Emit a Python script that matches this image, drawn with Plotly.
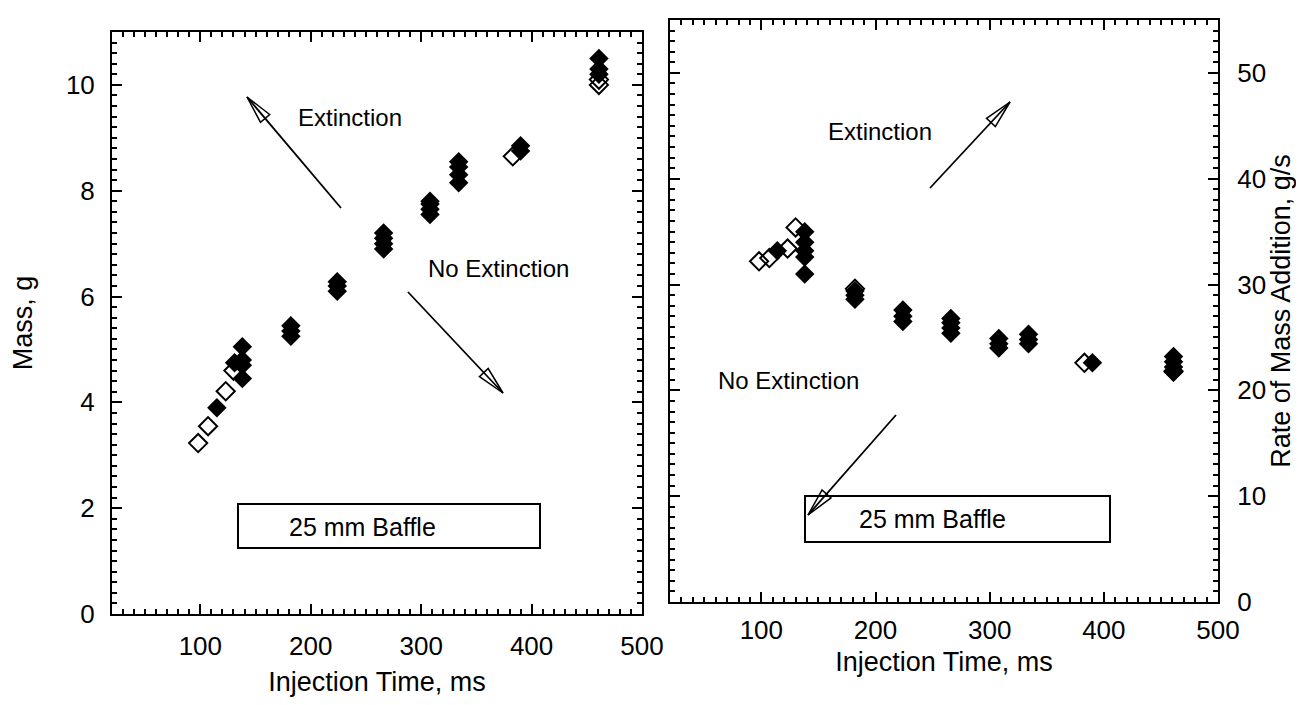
import math
import plotly.graph_objects as go

# page body has an 8px margin around the figure
OFF = 8
W, H = 1304 - 2 * OFF, 705 - 2 * OFF

# ---------------- data ----------------
# Left panel: Mass, g vs injection time, ms
mass_filled_t = [115, 131, 138, 138, 138, 138, 182, 182, 182, 224, 224, 224,
                 266, 266, 266, 266, 308, 308, 308, 308, 334, 334, 334, 334,
                 390, 390, 461, 461, 461]
mass_filled = [3.9, 4.75, 4.45, 4.7, 4.8, 5.05, 5.25, 5.35, 5.45, 6.1, 6.2, 6.28,
               6.9, 7.0, 7.1, 7.2, 7.55, 7.65, 7.75, 7.8, 8.15, 8.3, 8.45, 8.55,
               8.75, 8.85, 10.2, 10.3, 10.5]
mass_open_t = [98, 107, 123, 130, 383, 461, 461]
mass_open = [3.23, 3.55, 4.21, 4.6, 8.65, 10.0, 10.1]

# Right panel: rate of mass addition, g/s vs injection time, ms
rate_filled_t = [114, 138, 138, 138, 138, 138, 182, 182, 182, 224, 224, 224,
                 266, 266, 266, 266, 308, 308, 308, 334, 334, 334, 390,
                 461, 461, 461, 461]
rate_filled = [33.2, 35.0, 34.0, 33.2, 32.6, 31.0, 28.6, 29.0, 29.4, 26.5, 27.0, 27.6,
               25.4, 25.9, 26.4, 26.8, 24.0, 24.4, 24.9, 24.4, 24.8, 25.3, 22.6,
               21.7, 22.2, 22.7, 23.2]
rate_open_t = [98, 107, 123, 130, 182, 383, 461]
rate_open = [32.2, 32.5, 33.4, 35.4, 29.6, 22.6, 21.8]

x_ticks = [100, 200, 300, 400, 500]
mass_ticks = [0, 2, 4, 6, 8, 10]
rate_ticks = [0, 10, 20, 30, 40, 50]

FONT = "Liberation Sans, Arial, sans-serif"

# ---------------- figure ----------------
fig = go.Figure()

mk_filled = dict(symbol="diamond", size=15, color="black", line=dict(width=0))
mk_open = dict(symbol="diamond-open", size=14, color="black", line=dict(width=2, color="black"))

fig.add_trace(go.Scatter(x=mass_open_t, y=mass_open, mode="markers", marker=mk_open,
                         xaxis="x", yaxis="y", showlegend=False))
fig.add_trace(go.Scatter(x=mass_filled_t, y=mass_filled, mode="markers", marker=mk_filled,
                         xaxis="x", yaxis="y", showlegend=False))
fig.add_trace(go.Scatter(x=rate_open_t, y=rate_open, mode="markers", marker=mk_open,
                         xaxis="x2", yaxis="y2", showlegend=False))
fig.add_trace(go.Scatter(x=rate_filled_t, y=rate_filled, mode="markers", marker=mk_filled,
                         xaxis="x2", yaxis="y2", showlegend=False))

# plot frames in screen pixels (left, right, top, bottom)
L = (112, 642, 32, 614)
R = (670, 1218, 20, 602)


def xd(a, b):
    return [(a - OFF) / W, (b - OFF) / W]


def yd(top, bot):
    return [1 - (bot - OFF) / H, 1 - (top - OFF) / H]


axis_common = dict(
    showline=True, linecolor="black", linewidth=2, mirror="allticks",
    ticks="inside", ticklen=10, tickwidth=2, tickcolor="black",
    showgrid=False, zeroline=False, automargin=False,
    tickfont=dict(family=FONT, size=26, color="black"),
    title_font=dict(family=FONT, size=27, color="black"),
)
minor_common = dict(ticks="inside", ticklen=5, tickwidth=1.5, tickcolor="black")

fig.update_layout(
    width=W, height=H, template="none",
    paper_bgcolor="white", plot_bgcolor="white",
    margin=dict(l=0, r=0, t=0, b=0),
    font=dict(family=FONT, color="black"),
    xaxis=dict(domain=xd(L[0], L[1]), range=[20, 500], tickvals=x_ticks,
               minor=dict(dtick=10, **minor_common),
               title=dict(text="Injection Time, ms", standoff=16),
               ticklabelstandoff=8,
               anchor="y", **axis_common),
    yaxis=dict(domain=yd(L[2], L[3]), range=[0, 11], tickvals=mass_ticks,
               minor=dict(dtick=0.2, **minor_common),
               title=dict(text="Mass, g", standoff=26),
               ticklabelstandoff=10,
               anchor="x", **axis_common),
    xaxis2=dict(domain=xd(R[0], R[1]), range=[20, 500], tickvals=x_ticks,
                minor=dict(dtick=10, **minor_common),
                title=dict(text="Injection Time, ms", standoff=8),
                ticklabelstandoff=4,
                anchor="y2", **axis_common),
    yaxis2=dict(domain=yd(R[2], R[3]), range=[0, 55], tickvals=rate_ticks,
                minor=dict(dtick=1, **minor_common),
                title=dict(text="Rate of Mass Addition, g/s", standoff=12),
                side="right", ticklabelstandoff=12,
                anchor="x2", **axis_common),
)


def px(x, y):
    return (x - OFF) / W, 1 - (y - OFF) / H


def add_text(text, x, y, size=24):
    fx, fy = px(x, y)
    fig.add_annotation(text=text, x=fx, y=fy, xref="paper", yref="paper",
                       showarrow=False, xanchor="center", yanchor="middle",
                       font=dict(family=FONT, size=size, color="black"))


def add_arrow(tail, tip, head_len=28, head_half=6):
    (x0, y0), (x1, y1) = tail, tip
    dx, dy = x1 - x0, y1 - y0
    n = math.hypot(dx, dy)
    ux, uy = dx / n, dy / n
    bx, by = x1 - ux * head_len, y1 - uy * head_len
    pxv, pyv = -uy, ux
    a = (bx + pxv * head_half, by + pyv * head_half)
    b = (bx - pxv * head_half, by - pyv * head_half)
    p0, p1 = px(x0, y0), px(x1, y1)
    fig.add_shape(type="line", xref="paper", yref="paper",
                  x0=p0[0], y0=p0[1], x1=p1[0], y1=p1[1],
                  line=dict(color="black", width=1.8))
    pa, pb = px(*a), px(*b)
    path = f"M {pa[0]},{pa[1]} L {p1[0]},{p1[1]} L {pb[0]},{pb[1]} Z"
    fig.add_shape(type="path", xref="paper", yref="paper", path=path,
                  line=dict(color="black", width=1.5), fillcolor="rgba(0,0,0,0)")


def add_box(x0, y0, x1, y1):
    a, b = px(x0, y0), px(x1, y1)
    fig.add_shape(type="rect", xref="paper", yref="paper",
                  x0=a[0], y0=a[1], x1=b[0], y1=b[1],
                  line=dict(color="black", width=2), fillcolor="white", layer="below")


# left panel annotations
add_text("Extinction", 350, 117)
add_text("No Extinction", 498, 268)
add_arrow((341, 208), (247, 97))
add_arrow((408, 292), (503, 393))
add_box(238, 504, 540, 548)
add_text("25 mm Baffle", 362, 527, 25)

# right panel annotations
add_text("Extinction", 880, 132)
add_text("No Extinction", 788, 380)
add_arrow((930, 188), (1010, 102))
add_arrow((896, 415), (808, 515))
add_box(805, 496, 1110, 542)
add_text("25 mm Baffle", 932, 519, 25)

fig.write_html("out.html")
